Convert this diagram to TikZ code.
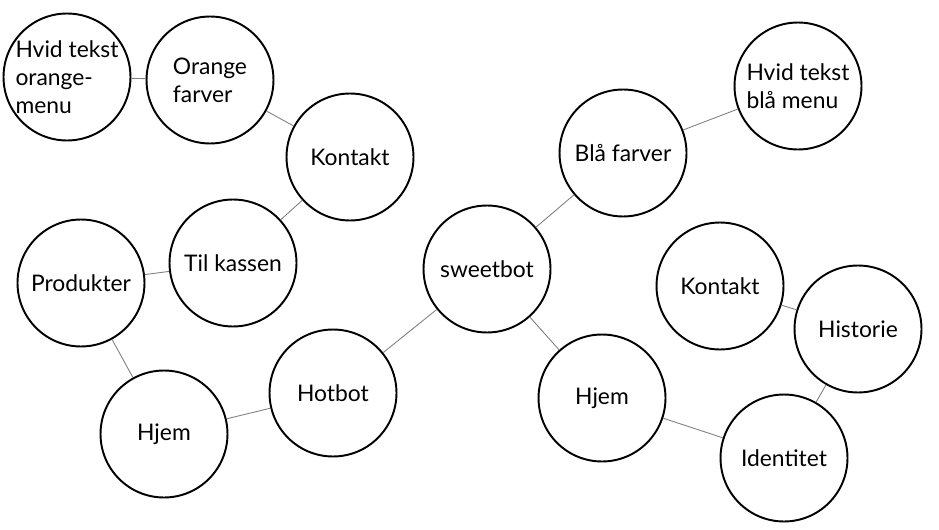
\documentclass[tikz,border=0pt]{standalone}
\usepackage{fontspec}
\setmainfont{Lato}
\usepackage{tikz}
\usetikzlibrary{positioning,shapes}

\begin{document}
\begin{tikzpicture}[x=0.02cm,y=-0.02cm,
		bubble/.style={circle,draw,line width=1.1pt,minimum size=2.54cm,inner sep=0pt,align=left,font=\fontsize{13}{16}\selectfont},
		link/.style={gray,line width=0.5pt}]
		\useasboundingbox (0,0) rectangle (939,530);

		% Center
		\node[bubble] (sweet) at (487,269) {sweetbot};

		% Left branch
		\node[bubble] (hot) at (333,393) {Hotbot};
		\node[bubble] (hjemL) at (164,434) {Hjem};
		\node[bubble] (prod) at (81,283) {Produkter};
		\node[bubble] (kasse) at (233,263) {Til kassen};
		\node[bubble] (kontL) at (350,157) {Kontakt};
		\node[bubble] (orange) at (210,80) {Orange\\farver};
		\node[bubble] (hvidO) at (67,77) {Hvid tekst\\orange-\\menu};

		% Right branch
		\node[bubble] (blaa) at (623,153) {Blå farver};
		\node[bubble] (hvidB) at (798,86) {Hvid tekst\\blå menu};
		\node[bubble] (hjemR) at (602,398) {Hjem};
		\node[bubble] (ident) at (784,458) {Identitet};
		\node[bubble] (hist) at (858,329) {Historie};
		\node[bubble] (kontR) at (720,286) {Kontakt};

		% Links
		\draw[link] (sweet) -- (hot);
		\draw[link] (hot) -- (hjemL);
		\draw[link] (hjemL) -- (prod);
		\draw[link] (prod) -- (kasse);
		\draw[link] (kasse) -- (kontL);
		\draw[link] (kontL) -- (orange);
		\draw[link] (orange) -- (hvidO);
		\draw[link] (sweet) -- (blaa);
		\draw[link] (blaa) -- (hvidB);
		\draw[link] (sweet) -- (hjemR);
		\draw[link] (hjemR) -- (ident);
		\draw[link] (ident) -- (hist);
		\draw[link] (hist) -- (kontR);
	\end{tikzpicture}
\end{document}
